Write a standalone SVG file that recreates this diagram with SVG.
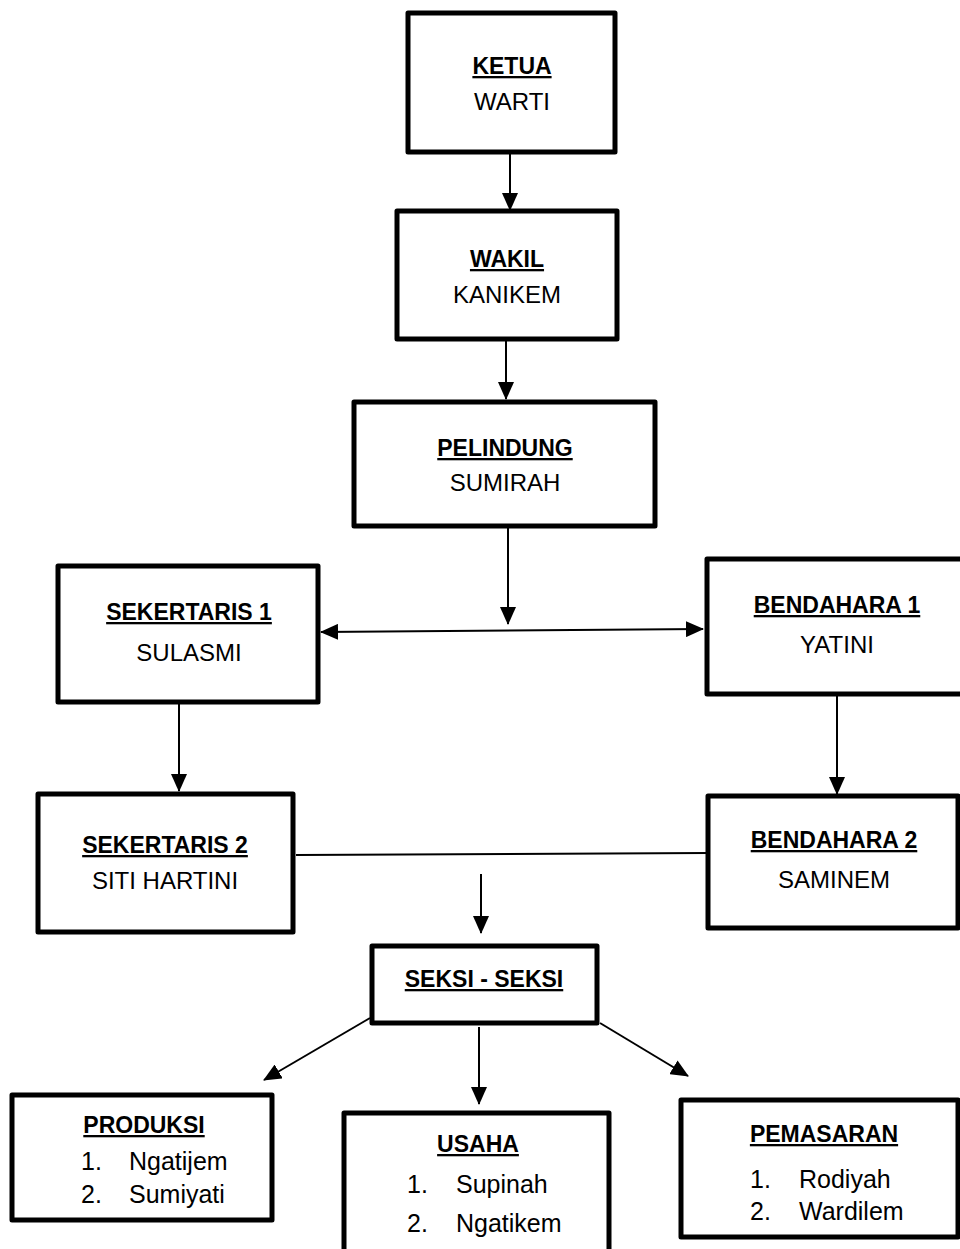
<svg xmlns="http://www.w3.org/2000/svg" width="960" height="1249" viewBox="0 0 960 1249">
<style>
.box{fill:#fff;stroke:#000;stroke-width:5;stroke-linejoin:round}
.t{font-family:"Liberation Sans",Arial,sans-serif;font-size:24px;fill:#000}
.h{font-weight:bold;text-decoration:underline;font-size:23px}
.li{font-size:25px}
.c{text-anchor:middle}
.ln{stroke:#000;stroke-width:2;fill:none}
</style>
<defs>
<marker id="ah" markerUnits="userSpaceOnUse" markerWidth="18" markerHeight="16" refX="17" refY="8" orient="auto-start-reverse">
<path d="M0,0 L18,8 L0,16 Z" fill="#000"/>
</marker>
</defs>
<rect width="960" height="1249" fill="#fff"/>
<g id="connectors">
<line class="ln" x1="510" y1="152" x2="510" y2="210" marker-end="url(#ah)"/>
<line class="ln" x1="506" y1="340" x2="506" y2="399" marker-end="url(#ah)"/>
<line class="ln" x1="508" y1="527" x2="508" y2="624" marker-end="url(#ah)"/>
<line class="ln" x1="321" y1="632" x2="703" y2="629" marker-start="url(#ah)" marker-end="url(#ah)"/>
<line class="ln" x1="179" y1="694" x2="179" y2="791" marker-end="url(#ah)"/>
<line class="ln" x1="837" y1="694" x2="837" y2="794" marker-end="url(#ah)"/>
<line class="ln" x1="296" y1="855" x2="708" y2="853"/>
<line class="ln" x1="481" y1="874" x2="481" y2="933" marker-end="url(#ah)"/>
<line class="ln" x1="370" y1="1018" x2="264" y2="1080" marker-end="url(#ah)"/>
<line class="ln" x1="479" y1="1027" x2="479" y2="1104" marker-end="url(#ah)"/>
<line class="ln" x1="600" y1="1023" x2="688" y2="1076" marker-end="url(#ah)"/>
</g>
<g id="ketua">
<rect class="box" x="408" y="13" width="207" height="139"/>
<text class="t h c" x="512" y="74">KETUA</text>
<text class="t c" x="512" y="110">WARTI</text>
</g>
<g id="wakil">
<rect class="box" x="397" y="211" width="220" height="128"/>
<text class="t h c" x="507" y="267">WAKIL</text>
<text class="t c" x="507" y="303">KANIKEM</text>
</g>
<g id="pelindung">
<rect class="box" x="354" y="402" width="301" height="124"/>
<text class="t h c" x="505" y="456">PELINDUNG</text>
<text class="t c" x="505" y="491">SUMIRAH</text>
</g>
<g id="sekertaris1">
<rect class="box" x="58" y="566" width="260" height="136"/>
<text class="t h c" x="189" y="620">SEKERTARIS 1</text>
<text class="t c" x="189" y="661">SULASMI</text>
</g>
<g id="bendahara1">
<rect class="box" x="707" y="559" width="258" height="135"/>
<text class="t h c" x="837" y="613">BENDAHARA 1</text>
<text class="t c" x="837" y="653">YATINI</text>
</g>
<g id="sekertaris2">
<rect class="box" x="38" y="794" width="255" height="138"/>
<text class="t h c" x="165" y="853">SEKERTARIS 2</text>
<text class="t c" x="165" y="889">SITI HARTINI</text>
</g>
<g id="bendahara2">
<rect class="box" x="708" y="796" width="250" height="132"/>
<text class="t h c" x="834" y="848">BENDAHARA 2</text>
<text class="t c" x="834" y="888">SAMINEM</text>
</g>
<g id="seksi">
<rect class="box" x="372" y="946" width="225" height="77"/>
<text class="t h c" x="484" y="987">SEKSI - SEKSI</text>
</g>
<g id="produksi">
<rect class="box" x="12" y="1095" width="260" height="125"/>
<text class="t h c" x="144" y="1133">PRODUKSI</text>
<text class="t li" x="81" y="1170">1.</text>
<text class="t li" x="129" y="1170">Ngatijem</text>
<text class="t li" x="81" y="1203">2.</text>
<text class="t li" x="129" y="1203">Sumiyati</text>
</g>
<g id="usaha">
<rect class="box" x="344" y="1113" width="265" height="150"/>
<text class="t h c" x="478" y="1152">USAHA</text>
<text class="t li" x="407" y="1193">1.</text>
<text class="t li" x="456" y="1193">Supinah</text>
<text class="t li" x="407" y="1232">2.</text>
<text class="t li" x="456" y="1232">Ngatikem</text>
</g>
<g id="pemasaran">
<rect class="box" x="681" y="1100" width="277" height="137"/>
<text class="t h c" x="824" y="1142">PEMASARAN</text>
<text class="t li" x="750" y="1188">1.</text>
<text class="t li" x="799" y="1188">Rodiyah</text>
<text class="t li" x="750" y="1220">2.</text>
<text class="t li" x="799" y="1220">Wardilem</text>
</g>
</svg>
